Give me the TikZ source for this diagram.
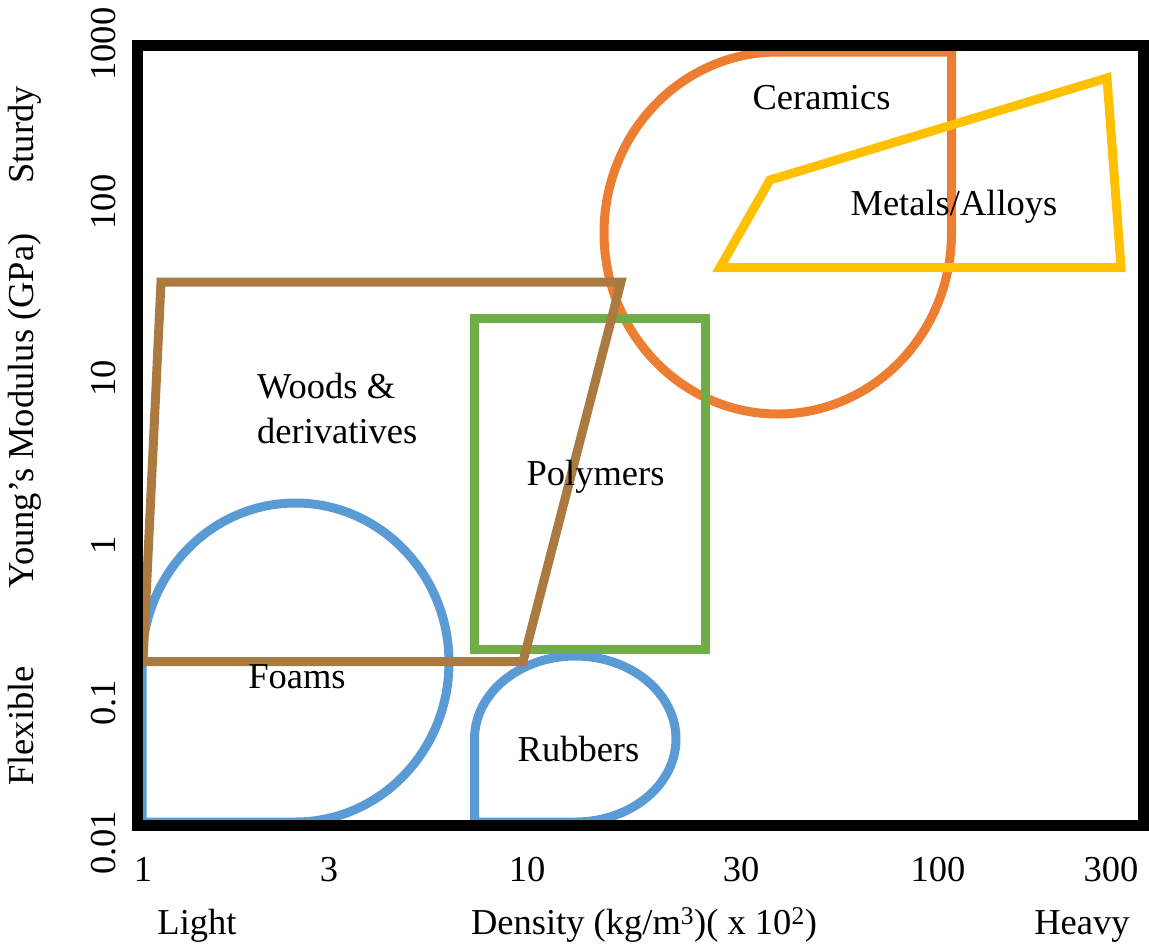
\documentclass[tikz,border=0pt]{standalone}
\usepackage{fontspec}
\setmainfont{Liberation Serif}
\definecolor{cblue}{RGB}{91,155,213}
\definecolor{corange}{RGB}{237,125,49}
\definecolor{cgreen}{RGB}{112,173,71}
\definecolor{cgold}{RGB}{255,192,0}
\definecolor{cbrown}{RGB}{170,122,64}
\begin{document}
\begin{tikzpicture}[x=1pt,y=-1pt,
  region/.style={line width=9pt},
  frame/.style={line width=11pt,black},
  lbl/.style={font=\fontsize{36.5}{44}\selectfont, inner sep=0pt, anchor=base},
  ylbl/.style={lbl, rotate=90}]
\useasboundingbox (0,0) rectangle (1149,943);
% regions
\draw[region,cblue] (142,662.5) arc[start angle=180,end angle=450,x radius=153.5,y radius=159.5] -- (142,822) -- cycle;
\draw[region,cblue] (474.5,739) arc[start angle=180,end angle=450,x radius=100.75,y radius=83] -- (474.5,822) -- cycle;
\draw[region,corange] (951.5,233) arc[start angle=0,end angle=270,x radius=173.75,y radius=181] -- (951.5,52) -- cycle;
\draw[region,cgold] (720,267.5) -- (770,180) -- (1107,78) -- (1121,267.5) -- cycle;
\draw[region,cgreen] (474.5,318) rectangle (705.5,649.5);
\draw[region,cbrown] (143,661.5) -- (523,661.5) -- (621,282) -- (161,282) -- cycle;
% frame
\draw[frame] (137,45) rectangle (1143.5,825);
% region labels
\node[lbl] (ceram) at (821.5,109) {Ceramics};
\node[lbl] (metal) at (954,215) {Metals/Alloys};
\node[lbl,anchor=base west] (wooda) at (257,398) {Woods \&};
\node[lbl,anchor=base west] (woodb) at (257,443) {derivatives};
\node[lbl] (poly) at (595.5,485) {Polymers};
\node[lbl] (foam) at (297,688) {Foams};
\node[lbl] (rubb) at (578.5,761) {Rubbers};
% x axis
\node[lbl] (xa) at (143,881) {1};
\node[lbl] (xb) at (329,881) {3};
\node[lbl] (xc) at (527,881) {10};
\node[lbl] (xd) at (741,881) {30};
\node[lbl] (xe) at (938,881) {100};
\node[lbl] (xf) at (1111,881) {300};
\node[lbl] (light) at (197,934) {Light};
\node[lbl] (dens) at (644,934) {Density (kg/m\textsuperscript{3})( x 10\textsuperscript{2})};
\node[lbl] (heavy) at (1082,934) {Heavy};
% y axis
\node[ylbl] (ya) at (115,44) {1000};
\node[ylbl] (yb) at (115,202) {100};
\node[ylbl] (yc) at (115,378) {10};
\node[ylbl] (yd) at (115,545) {1};
\node[ylbl] (ye) at (115,703) {0.1};
\node[ylbl] (yf) at (115,843) {0.01};
\node[ylbl] (sturdy) at (34,135) {Sturdy};
\node[ylbl] (young) at (34,411) {Young’s Modulus (GPa)};
\node[ylbl] (flex) at (34,726) {Flexible};
\end{tikzpicture}
\end{document}
